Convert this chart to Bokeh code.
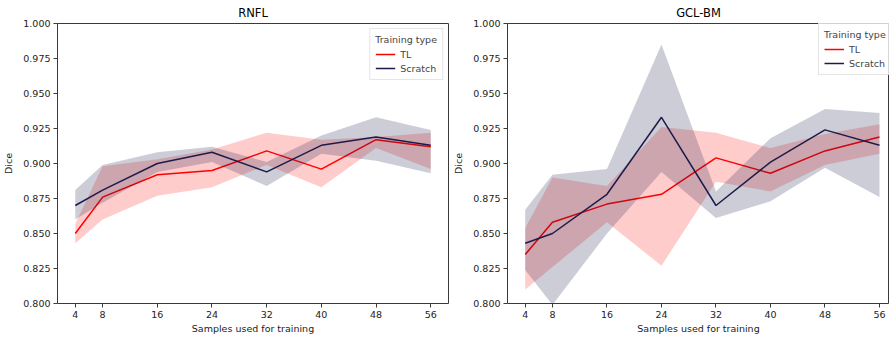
from bokeh.plotting import figure
from bokeh.layouts import row
from bokeh.models import ColumnDataSource, Range1d, FixedTicker, NumeralTickFormatter, Legend, LegendItem
from bokeh.embed import file_html
from bokeh.resources import INLINE

samples = [4, 8, 16, 24, 32, 40, 48, 56]
x_ticks = [4, 8, 16, 24, 32, 40, 48, 56]

# RNFL
rnfl_tl_mean = [0.850, 0.876, 0.892, 0.895, 0.909, 0.896, 0.917, 0.912]
rnfl_tl_low = [0.843, 0.860, 0.877, 0.883, 0.899, 0.883, 0.911, 0.896]
rnfl_tl_high = [0.857, 0.898, 0.903, 0.910, 0.922, 0.917, 0.919, 0.922]
rnfl_sc_mean = [0.870, 0.881, 0.900, 0.908, 0.894, 0.913, 0.919, 0.913]
rnfl_sc_low = [0.860, 0.872, 0.894, 0.901, 0.884, 0.907, 0.902, 0.893]
rnfl_sc_high = [0.881, 0.899, 0.908, 0.912, 0.901, 0.920, 0.933, 0.924]

# GCL-BM
gcl_tl_mean = [0.835, 0.858, 0.871, 0.878, 0.904, 0.893, 0.909, 0.919]
gcl_tl_low = [0.810, 0.826, 0.858, 0.827, 0.887, 0.880, 0.899, 0.907]
gcl_tl_high = [0.854, 0.890, 0.884, 0.926, 0.922, 0.911, 0.921, 0.928]
gcl_sc_mean = [0.843, 0.850, 0.878, 0.933, 0.870, 0.901, 0.924, 0.913]
gcl_sc_low = [0.824, 0.799, 0.850, 0.894, 0.861, 0.873, 0.897, 0.876]
gcl_sc_high = [0.867, 0.892, 0.896, 0.985, 0.880, 0.918, 0.939, 0.936]

TL_COLOR = "#ff0000"
SC_COLOR = "#1c1b4b"
FONT = "DejaVu Sans"
SPINE = "#3a3a3a"


def make_panel(title, tl_mean, tl_low, tl_high, sc_mean, sc_low, sc_high,
               width, x_end, legend_loc):
    p = figure(width=width, height=339, output_backend="svg", toolbar_location=None,
               x_range=Range1d(1.4, x_end), y_range=Range1d(0.8, 1.0),
               min_border_left=57, min_border_right=2, min_border_top=0,
               min_border_bottom=36, title=title)
    p.title.align = "center"
    p.title.text_font = FONT
    p.title.text_font_size = "11.5px"
    p.title.text_font_style = "normal"
    p.title.text_color = "#000000"
    p.title.standoff = 7
    p.grid.visible = False
    p.outline_line_color = SPINE
    p.outline_line_width = 1
    p.background_fill_color = "white"
    p.border_fill_color = "white"

    src = ColumnDataSource(dict(x=samples, tlm=tl_mean, tll=tl_low, tlh=tl_high,
                                scm=sc_mean, scl=sc_low, sch=sc_high))
    p.varea(x="x", y1="tll", y2="tlh", source=src, fill_color=TL_COLOR, fill_alpha=0.2)
    r_tl = p.line(x="x", y="tlm", source=src, line_color=TL_COLOR, line_width=1.5)
    p.varea(x="x", y1="scl", y2="sch", source=src, fill_color=SC_COLOR, fill_alpha=0.22)
    r_sc = p.line(x="x", y="scm", source=src, line_color=SC_COLOR, line_width=1.5)

    for ax in (p.xaxis[0], p.yaxis[0]):
        ax.axis_line_color = None
        ax.major_tick_line_color = SPINE
        ax.major_tick_in = 0
        ax.major_tick_out = 4
        ax.minor_tick_line_color = None
        ax.major_label_text_font = FONT
        ax.major_label_text_font_size = "9.5px"
        ax.major_label_text_color = "#222222"
        ax.axis_label_text_font = FONT
        ax.axis_label_text_font_size = "9.5px"
        ax.axis_label_text_font_style = "normal"
        ax.axis_label_text_color = "#222222"
        ax.major_label_standoff = 3
    p.xaxis.ticker = FixedTicker(ticks=x_ticks)
    p.yaxis.ticker = FixedTicker(ticks=[0.8, 0.825, 0.85, 0.875, 0.9, 0.925, 0.95, 0.975, 1.0])
    p.yaxis.formatter = NumeralTickFormatter(format="0.000")
    p.xaxis.axis_label = "Samples used for training"
    p.yaxis.axis_label = "Dice"
    p.xaxis.axis_label_standoff = 2
    p.yaxis.axis_label_standoff = 6

    legend = Legend(items=[LegendItem(label="TL", renderers=[r_tl]),
                           LegendItem(label="Scratch", renderers=[r_sc])],
                    location=legend_loc, title="Training type")
    legend.title_text_font = FONT
    legend.title_text_font_size = "9.5px"
    legend.title_text_font_style = "normal"
    legend.title_standoff = 3
    legend.label_text_font = FONT
    legend.label_text_font_size = "9.5px"
    legend.label_height = 12
    legend.glyph_height = 12
    legend.glyph_width = 20
    legend.spacing = 2
    legend.padding = 5
    legend.margin = 5
    legend.border_line_color = "#cccccc"
    legend.background_fill_alpha = 0.8
    p.add_layout(legend)
    return p


p1 = make_panel("RNFL", rnfl_tl_mean, rnfl_tl_low, rnfl_tl_high,
                rnfl_sc_mean, rnfl_sc_low, rnfl_sc_high, 450, 58.6, "top_right")
p2 = make_panel("GCL-BM", gcl_tl_mean, gcl_tl_low, gcl_tl_high,
                gcl_sc_mean, gcl_sc_low, gcl_sc_high, 439, 57.47, (311, 228))
p2.min_border_right = 0
p2.title.offset = 4

layout = row(p1, p2)
open("out.html", "w").write(file_html(layout, INLINE))
